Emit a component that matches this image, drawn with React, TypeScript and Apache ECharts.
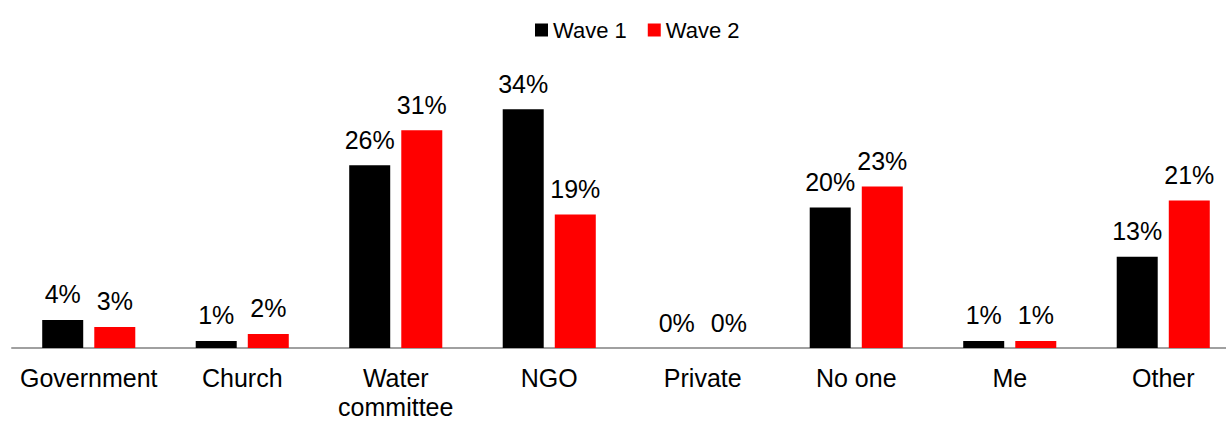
import React, { useEffect, useRef } from "react";
import * as echarts from "echarts";

const categories = ["Government", "Church", "Water\ncommittee", "NGO", "Private", "No one", "Me", "Other"];
const wave1 = [4, 1, 26, 34, 0, 20, 1, 13];
const wave2 = [3, 2, 31, 19, 0, 23, 1, 21];
const seriesNames = ["Wave 1", "Wave 2"];

const FONT = "'Liberation Sans', Arial, sans-serif";

export default function App() {
  const ref = useRef<HTMLDivElement>(null);
  useEffect(() => {
    const chart = echarts.init(ref.current!, null, { renderer: "svg" });
    const label = {
      show: true,
      position: "top" as const,
      distance: 13,
      color: "#000",
      fontSize: 25,
      fontFamily: FONT,
      formatter: (p: any) => `${p.value}%`,
    };
    chart.setOption({
      animation: false,
      backgroundColor: "#fff",
      legend: {
        top: 14,
        left: 530,
        itemWidth: 13,
        itemHeight: 13,
        itemGap: 21,
        icon: "rect",
        textStyle: { fontSize: 22, fontFamily: FONT, color: "#000" },
        data: seriesNames,
      },
      grid: { left: 12, width: 1228, top: 67, height: 281, outerBoundsMode: "none", containLabel: false },
      xAxis: {
        type: "category",
        data: categories,
        axisLine: { lineStyle: { color: "#a0a0a0", width: 2 } },
        axisTick: { show: false },
        axisLabel: {
          fontSize: 25,
          fontFamily: FONT,
          color: "#000",
          margin: 15,
          lineHeight: 29,
          interval: 0,
        },
      },
      yAxis: {
        type: "value",
        min: 0,
        max: 40,
        show: false,
        splitLine: { show: false },
      },
      series: [
        {
          name: seriesNames[0],
          type: "bar",
          data: wave1,
          barWidth: 41,
          barGap: "27%",
          itemStyle: { color: "#000000" },
          label,
        },
        {
          name: seriesNames[1],
          type: "bar",
          data: wave2,
          barWidth: 41,
          itemStyle: { color: "#ff0000" },
          label,
        },
      ],
    });
    return () => chart.dispose();
  }, []);
  return (
    <div
      ref={ref}
      style={{ position: "absolute", left: 0, top: 0, width: 1226, height: 421 }}
    />
  );
}
